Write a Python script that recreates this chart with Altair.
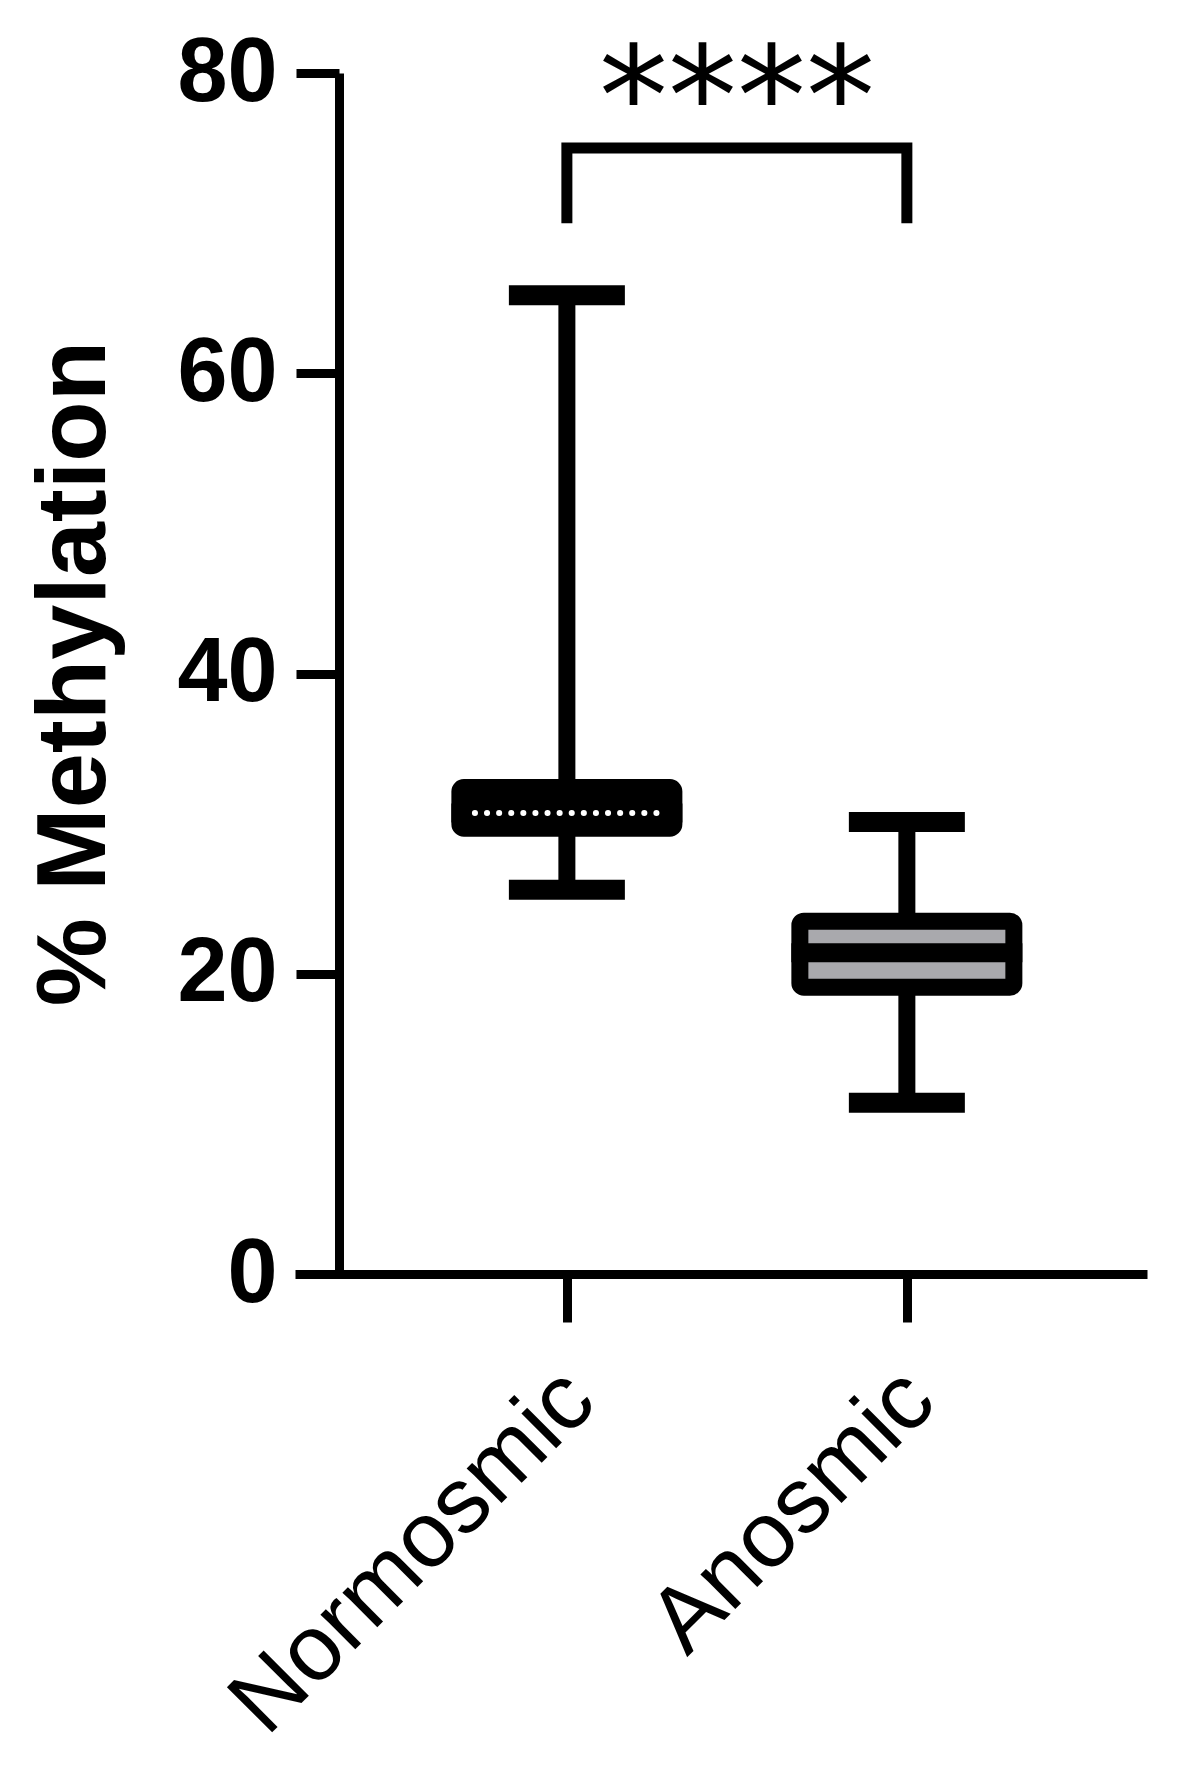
import altair as alt
import pandas as pd

# ---- data ----
groups = ["Normosmic", "Anosmic"]
whisker_min = [25.6, 11.4]
q1 = [29.7, 19.1]
median = [30.7, 21.4]
q3 = [32.4, 23.5]
whisker_max = [65.2, 30.1]
y_ticks = [0, 20, 40, 60, 80]
sig_label = "****"
bracket_levels = [70, 75, 75, 70]
bracket_groups = ["Normosmic", "Normosmic", "Anosmic", "Anosmic"]
star_level = 75.3

df = pd.DataFrame({"group": groups, "lo": whisker_min, "q1": q1,
                   "med": median, "q3": q3, "hi": whisker_max})
bracket_df = pd.DataFrame({"group": bracket_groups, "v": bracket_levels,
                           "ord": list(range(len(bracket_levels)))})
star_df = pd.DataFrame({"group": [groups[0]], "v": [star_level], "t": [sig_label]})

FONT = "Liberation Sans"

xscale = alt.Scale(type="point", domain=groups, padding=0.753, align=0.531)
yscale = alt.Scale(domain=[0, 80], nice=False, zero=True)

x_axis = alt.Axis(title=None, labelAngle=-45, labelAlign="right", labelBaseline="middle",
                  labelFont=FONT, labelFontSize=93, labelFontWeight="normal",
                  labelColor="black", labelPadding=63, labelOffset=12, labelLimit=0,
                  tickSize=48, tickWidth=9, tickColor="black",
                  domainWidth=9, domainColor="black", grid=False)
y_axis = alt.Axis(values=y_ticks, title="% Methylation", offset=-44,
                  labelFont=FONT, labelFontSize=90, labelFontWeight="bold",
                  labelColor="black", labelPadding=19,
                  tickSize=43, tickWidth=9, tickColor="black",
                  domainWidth=9, domainColor="black", grid=False,
                  titleFont=FONT, titleFontSize=99, titleFontWeight="bold",
                  titleColor="black", titleAngle=270, titleAlign="center",
                  titleBaseline="middle", titleX=-265, titleY=600)

X = alt.X("group:N", sort=groups, scale=xscale, axis=x_axis)
Xn = alt.X("group:N", sort=groups, scale=xscale)

base = alt.Chart(df)

whisker = base.mark_rule(strokeWidth=17, color="black").encode(
    x=X, y=alt.Y("lo:Q", scale=yscale, axis=y_axis), y2="hi:Q")

caps = base.transform_fold(["lo", "hi"], as_=["which", "val"]).mark_tick(
    color="black", opacity=1, thickness=20, size=116).encode(
    x=Xn, y=alt.Y("val:Q", scale=yscale))

box = base.mark_bar(size=214, stroke="black", strokeWidth=17, cornerRadius=4,
                    strokeJoin="round", opacity=1).encode(
    x=Xn, y=alt.Y("q1:Q", scale=yscale), y2="q3:Q",
    fill=alt.Fill("group:N", scale=alt.Scale(domain=groups, range=["black", "#a9a9ad"]),
                  legend=None))

med = base.mark_tick(color="black", opacity=1, thickness=19, size=231).encode(
    x=Xn, y=alt.Y("med:Q", scale=yscale))

dots = base.transform_filter(alt.datum.group == groups[0]).mark_rule(
    color="white", strokeWidth=6, strokeDash=[0.1, 12], strokeCap="round",
    xOffset=-92, x2Offset=92).encode(
    x=Xn, x2="group:N", y=alt.Y("med:Q", scale=yscale))

bracket = alt.Chart(bracket_df).mark_line(
    color="black", strokeWidth=11, strokeJoin="miter", strokeCap="butt").encode(
    x=Xn, y=alt.Y("v:Q", scale=yscale), order="ord:Q")

stars = alt.Chart(star_df).mark_text(
    dx=170, font="DejaVu Sans", fontSize=138, baseline="alphabetic", align="center",
    color="black").encode(
    x=Xn, y=alt.Y("v:Q", scale=yscale), text="t:N")

chart = alt.layer(whisker, caps, box, med, dots, bracket, stars).properties(
    width=852, height=1201,
    autosize=alt.AutoSizeParams(type="none"),
    padding={"left": 287, "top": 65, "right": 23, "bottom": 490},
    background="white",
).configure_view(stroke=None)

chart.save("out.html", embed_options={"renderer": "svg", "actions": False})
